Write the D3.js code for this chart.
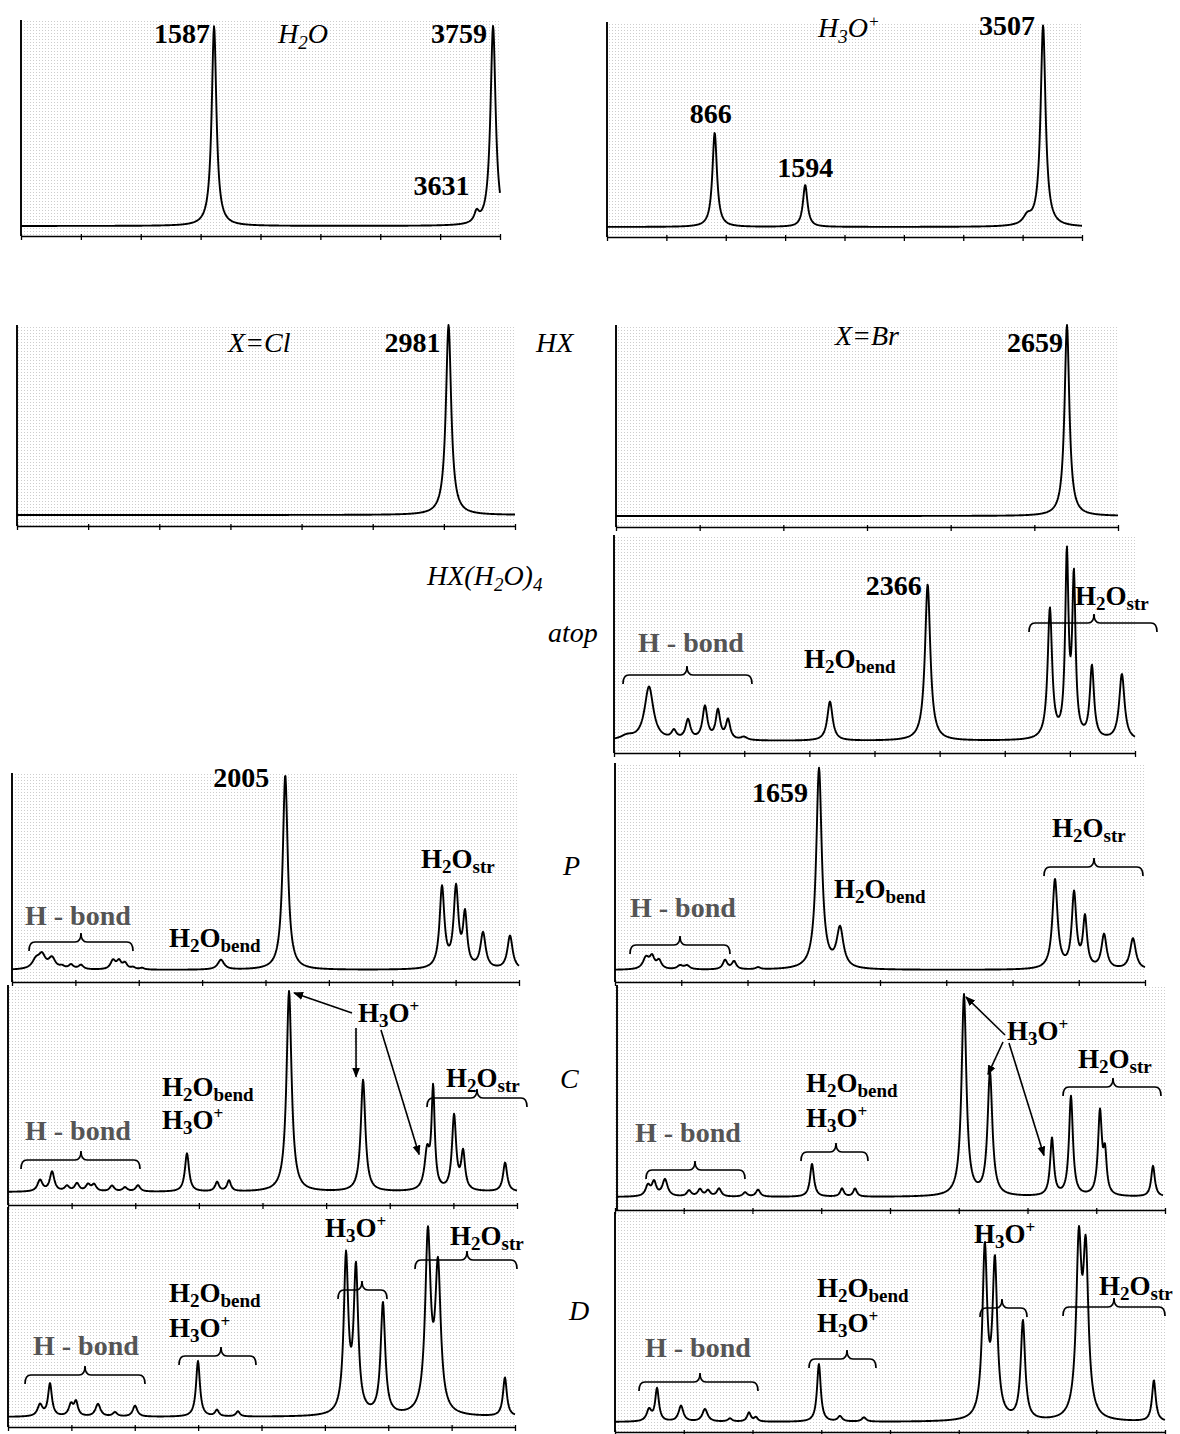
<!DOCTYPE html>
<html>
<head>
<meta charset="utf-8">
<script src="https://cdn.jsdelivr.net/npm/d3@7"></script>
<style>
  body { margin: 0; background: #fff; }
  svg { display: block; }
  text { font-family: "Liberation Serif", "Times New Roman", serif; }
</style>
</head>
<body>
<svg id="fig" width="1180" height="1434"></svg>
<script>
// Peak lists: [wavenumber (cm-1), relative intensity, half-width (cm-1)]
const h2oPeaks = [[1587, 0.97, 22], [3631, 0.05, 22], [3759, 0.97, 24]];
const h3oPeaks = [[866, 0.46, 22], [1594, 0.205, 22], [3380, 0.04, 40], [3507, 0.98, 24]];
const hclPeaks = [[2981, 1.0, 22]];
const hbrPeaks = [[2659, 1.0, 17]];
const hbrAtopPeaks = [
  [98, 0.02, 60], [264, 0.26, 40], [452, 0.04, 22], [558, 0.095, 22], [686, 0.16, 22],
  [784, 0.14, 20], [860, 0.095, 20], [980, 0.015, 30], [1629, 0.19, 24], [2366, 0.76, 24],
  [3288, 0.63, 20], [3416, 0.87, 15], [3469, 0.76, 15], [3605, 0.35, 19], [3831, 0.32, 24]
];
const hclPPeaks = [
  [176, 0.045, 34], [220, 0.065, 30], [293, 0.055, 30], [367, 0.012, 22], [433, 0.022, 22],
  [506, 0.022, 22], [741, 0.045, 22], [785, 0.04, 20], [829, 0.03, 20], [888, 0.01, 20],
  [954, 0.008, 20], [1533, 0.05, 28], [2005, 0.99, 22], [3155, 0.41, 21], [3258, 0.40, 21],
  [3324, 0.26, 18], [3456, 0.18, 23], [3654, 0.17, 23]
];
const hbrPPeaks = [
  [252, 0.055, 30], [301, 0.055, 24], [358, 0.04, 24], [529, 0.018, 28], [586, 0.018, 28],
  [895, 0.045, 22], [968, 0.038, 22], [1163, 0.01, 22], [1659, 0.97, 27], [1830, 0.19, 33],
  [3578, 0.43, 25], [3733, 0.36, 22], [3822, 0.24, 20], [3977, 0.165, 25], [4212, 0.15, 28]
];
const hclCPeaks = [
  [234, 0.055, 22], [322, 0.095, 20], [431, 0.025, 20], [504, 0.038, 20], [585, 0.032, 20],
  [629, 0.032, 20], [760, 0.028, 20], [855, 0.02, 20], [950, 0.03, 20], [1308, 0.185, 18],
  [1528, 0.045, 17], [1615, 0.052, 17], [2054, 0.97, 22], [2595, 0.54, 20], [3063, 0.18, 22],
  [3107, 0.48, 14], [3260, 0.36, 18], [3326, 0.18, 17], [3633, 0.14, 18]
];
const hbrCPeaks = [
  [238, 0.05, 22], [285, 0.065, 20], [369, 0.08, 24], [554, 0.028, 20], [638, 0.033, 20],
  [700, 0.028, 20], [785, 0.038, 20], [985, 0.02, 20], [1085, 0.033, 20], [1500, 0.155, 18],
  [1731, 0.038, 17], [1831, 0.038, 17], [2669, 0.95, 22], [2869, 0.58, 22], [3346, 0.27, 17],
  [3492, 0.47, 18], [3715, 0.39, 18], [3754, 0.18, 15], [4123, 0.145, 17]
];
const hclDPeaks = [
  [235, 0.055, 22], [308, 0.155, 17], [462, 0.055, 20], [499, 0.065, 17], [660, 0.06, 22],
  [785, 0.02, 20], [932, 0.052, 20], [1394, 0.265, 17], [1533, 0.03, 17], [1687, 0.025, 17],
  [2480, 0.74, 20], [2553, 0.68, 20], [2751, 0.53, 20], [3081, 0.84, 24], [3155, 0.68, 24],
  [3646, 0.185, 17]
];
const hbrDPeaks = [
  [260, 0.055, 22], [321, 0.155, 17], [504, 0.075, 22], [687, 0.06, 24], [878, 0.015, 20],
  [1023, 0.043, 17], [1076, 0.02, 17], [1557, 0.275, 17], [1718, 0.025, 20], [1901, 0.02, 20],
  [2824, 0.80, 22], [2901, 0.73, 22], [3115, 0.47, 20], [3542, 0.80, 24], [3595, 0.75, 24],
  [4115, 0.195, 17]
];

// Wavenumber span of each plotted spectrum (cm-1)
const spans = {
  h2o: [84, 3813], h3o: [0, 3820], hcl: [0, 3440], hbr: [0, 2960], atop: [0, 3930],
  hclP: [0, 3720], hbrP: [0, 4310], hclC: [0, 3720], hbrC: [0, 4200], hclD: [0, 3720], hbrD: [0, 4200]
};

// Panel frames on the page
const panels = [
  { key: 'h2o',  peaks: h2oPeaks,     x: [21, 500],   top: 20,   base: 226,  axisY: 236,  ticks: 8, axisX: [21, 500] },
  { key: 'h3o',  peaks: h3oPeaks,     x: [607, 1082], top: 22,   base: 227,  axisY: 237,  ticks: 8, axisX: [607, 1082] },
  { key: 'hcl',  peaks: hclPeaks,     x: [17, 515],   top: 325,  base: 515,  axisY: 526,  ticks: 7, axisX: [17, 515] },
  { key: 'hbr',  peaks: hbrPeaks,     x: [616, 1118], top: 325,  base: 516,  axisY: 527,  ticks: 6, axisX: [616, 1118] },
  { key: 'atop', peaks: hbrAtopPeaks, x: [614, 1135], top: 535,  base: 741,  axisY: 753,  ticks: 8, axisX: [614, 1135] },
  { key: 'hclP', peaks: hclPPeaks,    x: [12, 519],   top: 773,  base: 970,  axisY: 982,  ticks: 8, axisX: [12, 519] },
  { key: 'hbrP', peaks: hbrPPeaks,    x: [615, 1145], top: 763,  base: 970,  axisY: 982,  ticks: 8, axisX: [615, 1145] },
  { key: 'hclC', peaks: hclCPeaks,    x: [8, 517],    top: 985,  base: 1192, axisY: 1205, ticks: 8, axisX: [8, 517] },
  { key: 'hbrC', peaks: hbrCPeaks,    x: [617, 1163], top: 985,  base: 1197, axisY: 1210, ticks: 8, axisX: [615, 1165] },
  { key: 'hclD', peaks: hclDPeaks,    x: [8, 515],    top: 1207, base: 1417, axisY: 1427, ticks: 8, axisX: [8, 515] },
  { key: 'hbrD', peaks: hbrDPeaks,    x: [615, 1165], top: 1212, base: 1422, axisY: 1432, ticks: 8, axisX: [615, 1165] }
];

const svg = d3.select('#fig');
const defs = svg.append('defs');

// light halftone screen behind each plot
const pat = defs.append('pattern').attr('id', 'screen').attr('width', 3).attr('height', 3)
  .attr('patternUnits', 'userSpaceOnUse');
pat.append('rect').attr('width', 1).attr('height', 1).attr('fill', '#9a9a9a');

defs.append('marker').attr('id', 'head').attr('viewBox', '0 0 10 10')
  .attr('refX', 9).attr('refY', 5).attr('markerWidth', 10).attr('markerHeight', 10)
  .attr('markerUnits', 'userSpaceOnUse').attr('orient', 'auto')
  .append('path').attr('d', 'M0,1 L10,5 L0,9 Z').attr('fill', '#000');

// Lorentzian band sum
function intensity(peaks, nu) {
  let s = 0;
  for (const [c, h, w] of peaks) {
    const d = (nu - c) / w;
    s += h / (1 + d * d);
  }
  return s;
}

const P = {};
panels.forEach(p => {
  p.xs = d3.scaleLinear().domain(spans[p.key]).range(p.x);
  p.ys = d3.scaleLinear().domain([0, 1]).range([p.base, p.top]);
  P[p.key] = p;

  const g = svg.append('g').attr('class', 'panel-' + p.key);

  g.append('rect')
    .attr('x', Math.min(p.x[0], p.axisX[0])).attr('y', p.top)
    .attr('width', Math.max(p.x[1], p.axisX[1]) - Math.min(p.x[0], p.axisX[0]))
    .attr('height', p.axisY - p.top)
    .attr('fill', 'url(#screen)').attr('opacity', 0.5);

  // spectrum
  const pts = d3.range(p.x[0], p.x[1] + 0.01, 0.5).map(px => {
    const nu = p.xs.invert(px);
    return [nu, Math.min(intensity(p.peaks, nu), 1)];
  });
  const line = d3.line().x(d => p.xs(d[0])).y(d => p.ys(d[1]));
  g.append('path').datum(pts).attr('d', line)
    .attr('fill', 'none').attr('stroke', '#000').attr('stroke-width', 1.9)
    .attr('stroke-linejoin', 'round');

  // bottom axis with unlabeled ticks
  const axScale = d3.scaleLinear().domain([0, p.ticks]).range(p.axisX);
  const axis = d3.axisBottom(axScale).tickValues(d3.range(p.ticks + 1))
    .tickSize(4).tickSizeOuter(0).tickFormat('');
  const ag = g.append('g').attr('transform', `translate(0,${p.axisY})`).call(axis);
  ag.select('.domain').attr('stroke', '#000').attr('stroke-width', 1.7);
  ag.selectAll('.tick line').attr('stroke', '#000').attr('stroke-width', 1.3).attr('y1', -2);

  // left axis
  g.append('line').attr('x1', p.x[0]).attr('x2', p.x[0]).attr('y1', p.top).attr('y2', p.axisY)
    .attr('stroke', '#000').attr('stroke-width', 1.9);
});

// text with _{sub} and ^{sup} markup
function rich(x, y, markup, o = {}) {
  const size = o.size || 27, small = o.small || 19;
  const t = svg.append('text').attr('x', x).attr('y', y).attr('font-size', size)
    .attr('font-weight', o.bold ? 'bold' : 'normal')
    .attr('font-style', o.italic ? 'italic' : 'normal')
    .attr('fill', o.fill || '#000').attr('text-anchor', o.anchor || 'start');
  let shift = 0;
  const re = /(_|\^)\{([^}]*)\}|([^_^]+)/g;
  let m;
  while ((m = re.exec(markup))) {
    let target, fs;
    if (m[1] === '_') { target = size * 0.2; fs = small; }
    else if (m[1] === '^') { target = -size * 0.36; fs = small * 0.9; }
    else { target = 0; fs = size; }
    t.append('tspan').attr('dy', target - shift).attr('font-size', fs).text(m[2] !== undefined ? m[2] : m[3]);
    shift = target;
  }
  return t;
}

// peak value label placed from the peak's own wavenumber
function valueLabel(key, idx, dx, y, anchor) {
  const p = P[key];
  const nu = p.peaks[idx][0];
  rich(p.xs(nu) + dx, y, String(nu), { bold: true, anchor: anchor || 'end', size: 28 });
}

function brace(x1, x2, xc, y) {
  const d = 9, r = 6;
  svg.append('path')
    .attr('d', `M${x1},${y + d} Q${x1},${y} ${x1 + r},${y} L${xc - r},${y} Q${xc},${y} ${xc},${y - d} ` +
               `Q${xc},${y} ${xc + r},${y} L${x2 - r},${y} Q${x2},${y} ${x2},${y + d}`)
    .attr('fill', 'none').attr('stroke', '#000').attr('stroke-width', 1.7);
}

// arrow from a point to a band maximum
function arrow(key, x0, y0, idx, dx, dy) {
  const p = P[key];
  const nu = p.peaks[idx][0];
  const tx = p.xs(nu) + dx, ty = p.ys(Math.min(intensity(p.peaks, nu), 1)) + dy;
  svg.append('line').attr('x1', x0).attr('y1', y0).attr('x2', tx).attr('y2', ty)
    .attr('stroke', '#000').attr('stroke-width', 1.6).attr('marker-end', 'url(#head)');
}

const hb = { bold: true, fill: '#555', size: 28 };
const bold = { bold: true };
const ital = { italic: true, size: 28 };

// monomers and H3O+
valueLabel('h2o', 0, -4, 43);
rich(278, 43, 'H_{2}O', ital);
valueLabel('h2o', 2, -6, 43);
valueLabel('h2o', 1, -7, 195);
rich(818, 37, 'H_{3}O^{+}', ital);
valueLabel('h3o', 3, -8, 35);
valueLabel('h3o', 0, -4, 123, 'middle');
valueLabel('h3o', 1, 0, 177, 'middle');

// HX
rich(228, 352, 'X=Cl', ital);
valueLabel('hcl', 0, -8, 352);
rich(536, 352, 'HX', ital);
rich(835, 345, 'X=Br', ital);
valueLabel('hbr', 0, -4, 352);

// HX(H2O)4 atop
rich(427, 585, 'HX(H_{2}O)_{4}', ital);
rich(548, 642, 'atop', ital);
rich(691, 652, 'H - bond', Object.assign({ anchor: 'middle' }, hb));
brace(623, 752, 687, 675);
rich(804, 668, 'H_{2}O_{bend}', bold);
valueLabel('atop', 9, -6, 595);
rich(1075, 605, 'H_{2}O_{str}', bold);
brace(1029, 1157, 1094, 623);

// P
valueLabel('hclP', 12, -16, 787);
rich(25, 925, 'H - bond', hb);
brace(29, 133, 81, 942);
rich(169, 947, 'H_{2}O_{bend}', bold);
rich(421, 868, 'H_{2}O_{str}', bold);
rich(563, 875, 'P', ital);

valueLabel('hbrP', 8, -11, 802);
rich(834, 898, 'H_{2}O_{bend}', bold);
rich(630, 917, 'H - bond', hb);
brace(630, 730, 680, 945);
rich(1052, 837, 'H_{2}O_{str}', bold);
brace(1044, 1143, 1094, 867);

// C
rich(162, 1096, 'H_{2}O_{bend}', bold);
rich(162, 1129, 'H_{3}O^{+}', bold);
rich(25, 1140, 'H - bond', hb);
brace(21, 140, 81, 1160);
rich(358, 1022, 'H_{3}O^{+}', bold);
arrow('hclC', 352, 1013, 12, 5, 2);
arrow('hclC', 356, 1028, 13, -7, -3);
arrow('hclC', 381, 1030, 14, -8, 10);
rich(446, 1087, 'H_{2}O_{str}', bold);
brace(427, 527, 477, 1098);
rich(560, 1088, 'C', ital);

rich(1007, 1040, 'H_{3}O^{+}', bold);
arrow('hbrC', 1005, 1035, 12, 2, 3);
arrow('hbrC', 1003, 1042, 13, -2, 3);
arrow('hbrC', 1009, 1043, 14, -8, 18);
rich(806, 1092, 'H_{2}O_{bend}', bold);
rich(806, 1127, 'H_{3}O^{+}', bold);
brace(801, 868, 836, 1152);
rich(635, 1142, 'H - bond', hb);
brace(646, 745, 695, 1170);
rich(1078, 1068, 'H_{2}O_{str}', bold);
brace(1063, 1161, 1113, 1087);

// D
rich(325, 1237, 'H_{3}O^{+}', bold);
brace(338, 387, 362, 1290);
rich(450, 1245, 'H_{2}O_{str}', bold);
brace(415, 517, 467, 1260);
rich(169, 1302, 'H_{2}O_{bend}', bold);
rich(169, 1337, 'H_{3}O^{+}', bold);
brace(179, 256, 221, 1356);
rich(33, 1355, 'H - bond', hb);
brace(25, 145, 85, 1375);
rich(569, 1320, 'D', ital);

rich(974, 1243, 'H_{3}O^{+}', bold);
brace(980, 1027, 1002, 1308);
rich(1099, 1295, 'H_{2}O_{str}', bold);
brace(1063, 1165, 1114, 1307);
rich(817, 1297, 'H_{2}O_{bend}', bold);
rich(817, 1332, 'H_{3}O^{+}', bold);
brace(809, 876, 847, 1359);
rich(645, 1357, 'H - bond', hb);
brace(639, 758, 700, 1382);
</script>
</body>
</html>
